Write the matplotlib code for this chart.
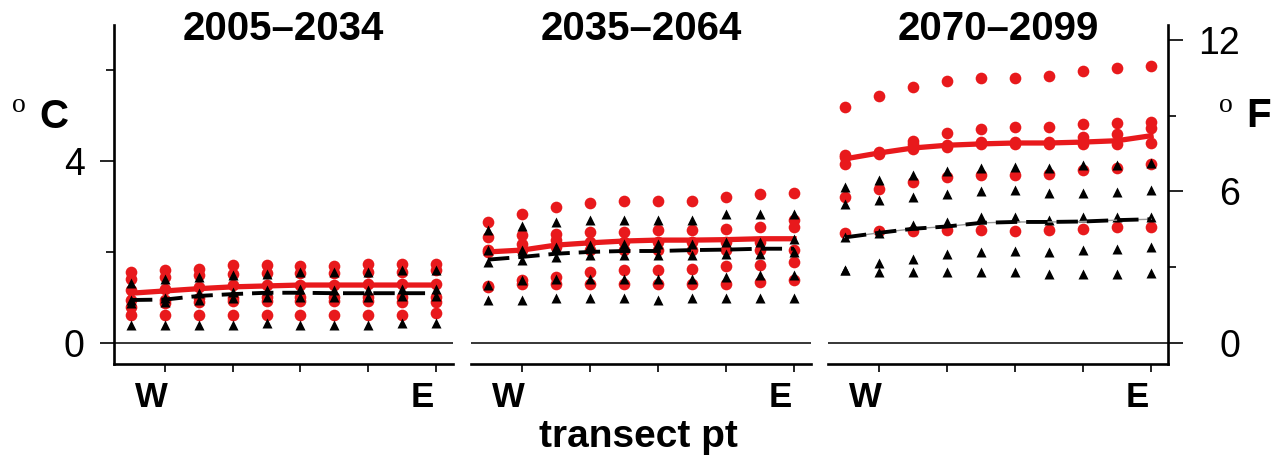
import matplotlib.pyplot as plt
import numpy as np
from matplotlib.transforms import ScaledTranslation

plt.rcParams['font.family'] = ['Liberation Sans', 'DejaVu Sans']

# transect points, west to east
pts = np.arange(1, 11)
periods = ['2005\u20132034', '2035\u20132064', '2070\u20132099']

# warming (deg C) per model, red circles
red_early = [
    [1.56, 1.60, 1.63, 1.71, 1.71, 1.69, 1.69, 1.74, 1.74, 1.74],
    [1.41, 1.45, 1.49, 1.52, 1.54, 1.54, 1.54, 1.56, 1.56, 1.60],
    [1.16, 1.19, 1.23, 1.27, 1.27, 1.27, 1.27, 1.29, 1.29, 1.29],
    [0.94, 0.94, 0.98, 0.98, 1.00, 1.00, 1.00, 1.00, 1.00, 1.00],
    [0.79, 0.88, 0.90, 0.92, 0.92, 0.92, 0.92, 0.92, 0.90, 0.90],
    [0.61, 0.61, 0.61, 0.61, 0.61, 0.61, 0.61, 0.61, 0.61, 0.66],
]
red_mid = [
    [2.66, 2.84, 2.99, 3.08, 3.12, 3.12, 3.12, 3.22, 3.27, 3.30],
    [2.33, 2.37, 2.40, 2.44, 2.44, 2.48, 2.48, 2.51, 2.55, 2.70],
    [2.04, 2.18, 2.26, 2.22, 2.22, 2.22, 2.22, 2.22, 2.22, 2.55],
    [2.00, 2.04, 2.11, 2.04, 2.04, 2.04, 2.04, 2.04, 2.04, 2.04],
    [1.25, 1.39, 1.45, 1.56, 1.60, 1.60, 1.63, 1.69, 1.71, 1.78],
    [1.23, 1.30, 1.30, 1.30, 1.30, 1.30, 1.30, 1.30, 1.34, 1.38],
]
red_late = [
    [5.19, 5.44, 5.63, 5.76, 5.83, 5.83, 5.88, 5.99, 6.05, 6.10],
    [4.13, 4.20, 4.45, 4.62, 4.71, 4.76, 4.76, 4.82, 4.84, 4.86],
    [4.09, 4.18, 4.38, 4.35, 4.42, 4.42, 4.42, 4.53, 4.60, 4.73],
    [3.94, 4.16, 4.27, 4.32, 4.37, 4.38, 4.38, 4.38, 4.38, 4.40],
    [3.21, 3.39, 3.54, 3.65, 3.69, 3.69, 3.72, 3.81, 3.85, 3.93],
    [2.42, 2.46, 2.46, 2.48, 2.48, 2.46, 2.49, 2.51, 2.54, 2.55],
]

# black triangles
black_early = [
    [1.32, 1.41, 1.45, 1.49, 1.52, 1.56, 1.56, 1.56, 1.60, 1.60],
    [0.94, 0.98, 1.09, 1.12, 1.16, 1.19, 1.16, 1.16, 1.19, 1.19],
    [0.88, 0.90, 0.94, 0.98, 1.00, 1.00, 1.00, 1.00, 1.02, 1.02],
    [0.39, 0.39, 0.40, 0.40, 0.43, 0.40, 0.40, 0.40, 0.43, 0.44],
]
black_mid = [
    [2.48, 2.56, 2.66, 2.71, 2.71, 2.71, 2.71, 2.83, 2.83, 2.84],
    [2.04, 2.04, 2.11, 2.15, 2.18, 2.18, 2.18, 2.22, 2.22, 2.29],
    [1.78, 1.82, 1.88, 1.93, 1.93, 1.93, 1.93, 1.96, 1.96, 2.00],
    [1.27, 1.39, 1.41, 1.41, 1.41, 1.41, 1.41, 1.45, 1.49, 1.49],
    [0.94, 0.95, 0.98, 0.98, 0.98, 0.95, 0.98, 0.98, 0.98, 0.98],
]
black_late = [
    [3.43, 3.58, 3.69, 3.78, 3.85, 3.87, 3.85, 3.91, 3.91, 3.96],
    [3.06, 3.14, 3.22, 3.28, 3.34, 3.37, 3.30, 3.30, 3.32, 3.36],
    [2.33, 2.42, 2.59, 2.66, 2.76, 2.77, 2.70, 2.77, 2.77, 2.77],
    [1.61, 1.76, 1.85, 1.96, 2.00, 2.02, 2.00, 2.05, 2.07, 2.11],
    [1.60, 1.56, 1.56, 1.56, 1.56, 1.56, 1.52, 1.52, 1.52, 1.54],
]

# ensemble lines
red_mean = [
    [1.09, 1.14, 1.19, 1.23, 1.25, 1.27, 1.27, 1.27, 1.27, 1.27],
    [2.00, 2.04, 2.15, 2.20, 2.24, 2.26, 2.26, 2.27, 2.29, 2.29],
    [4.05, 4.18, 4.29, 4.35, 4.38, 4.40, 4.40, 4.42, 4.45, 4.56],
]
black_mean = [
    [0.94, 0.95, 1.03, 1.07, 1.10, 1.10, 1.09, 1.09, 1.09, 1.09],
    [1.83, 1.89, 1.96, 2.00, 2.02, 2.02, 2.04, 2.05, 2.07, 2.07],
    [2.32, 2.42, 2.51, 2.56, 2.64, 2.66, 2.66, 2.67, 2.70, 2.72],
]

reds = [red_early, red_mid, red_late]
blacks = [black_early, black_mid, black_late]

W, H = 1281, 459
RED = '#e8191c'
fig = plt.figure(figsize=(W / 100, H / 100), dpi=100)

ylo, yhi = -0.47, 7.0
edges = [(114, 453), (471, 811), (828, 1168)]
axes = []
for i, (x0, x1) in enumerate(edges):
    ax = fig.add_axes([x0 / W, (H - 364) / H, (x1 - x0) / W, 339 / H])
    axes.append(ax)
    ax.set_xlim(0.5, 10.5)
    ax.set_ylim(ylo, yhi)
    for s in ['top', 'right', 'left']:
        ax.spines[s].set_visible(False)
    ax.spines['bottom'].set_linewidth(1.9)
    ax.axhline(0, color='black', lw=1.1, zorder=1)

    for row in reds[i]:
        ax.plot(pts, row, 'o', color=RED, ms=8.4, mec='none', zorder=2)
    ax.plot(pts, red_mean[i], '-', color=RED, lw=3.8, zorder=3)
    for row in blacks[i]:
        ax.plot(pts, row, '^', color='black', ms=7.8, mec='none', zorder=4)
    if i == 2:
        ax.plot(pts, black_mean[i], '-', color='#9a9a9a', lw=1.0, zorder=4)
    ax.plot(pts, black_mean[i], '-', color='black', lw=2.8,
            dashes=(5.5, 2.3), zorder=5)

    ax.set_xticks([2, 4, 6, 8, 10])
    ax.set_xticklabels(['W', '', '', '', 'E'], fontweight='bold')
    ax.tick_params(axis='x', direction='out', length=6, width=1.2,
                   labelsize=25, pad=6)
    shift = ScaledTranslation(-0.14, 0, fig.dpi_scale_trans)
    for lbl in ax.get_xticklabels():
        lbl.set_transform(lbl.get_transform() + shift)

    ax.text(0.5, (364 - 40) / 339, periods[i], transform=ax.transAxes,
            ha='center', va='baseline', fontsize=29, fontweight='bold')

# Fahrenheit axis on the right
axr = axes[2].twinx()
axr.set_ylim(ylo * 1.8, yhi * 1.8)
for s in ['top', 'left', 'bottom']:
    axr.spines[s].set_visible(False)
axr.spines['right'].set_linewidth(1.9)
axr.set_yticks([0, 6, 12])
axr.set_yticks([3, 9], minor=True)
axr.tick_params(axis='y', which='major', length=11, width=1.2,
                labelsize=27, pad=41)
axr.tick_params(axis='y', which='minor', length=6, width=1.2)
for lbl in axr.get_yticklabels():
    lbl.set_horizontalalignment('right')

# Celsius axis on the left panel only
ax1 = axes[0]
ax1.spines['left'].set_visible(True)
ax1.spines['left'].set_linewidth(1.9)
ax1.set_yticks([0, 4])
ax1.set_yticks([2, 6], minor=True)
ax1.tick_params(axis='y', which='major', length=10, width=1.2,
                labelsize=27, pad=11)
ax1.tick_params(axis='y', which='minor', length=6, width=1.2)
for ax in axes[1:]:
    ax.tick_params(axis='y', which='both', left=False, right=False,
                   labelleft=False, labelright=False)

# unit labels
fig.text(19 / W, 1 - 112 / H, 'o', family='Liberation Serif', fontsize=20,
         ha='center', va='baseline')
fig.text(54 / W, 1 - 128 / H, 'C', fontsize=29, fontweight='bold',
         ha='center', va='baseline')
fig.text(1226 / W, 1 - 112 / H, 'o', family='Liberation Serif', fontsize=20,
         ha='center', va='baseline')
fig.text(1259 / W, 1 - 127 / H, 'F', fontsize=29, fontweight='bold',
         ha='center', va='baseline')

fig.text(638 / W, 1 - 447 / H, 'transect pt', fontsize=28, fontweight='bold',
         ha='center', va='baseline')

fig.savefig('out.png', dpi=100)
